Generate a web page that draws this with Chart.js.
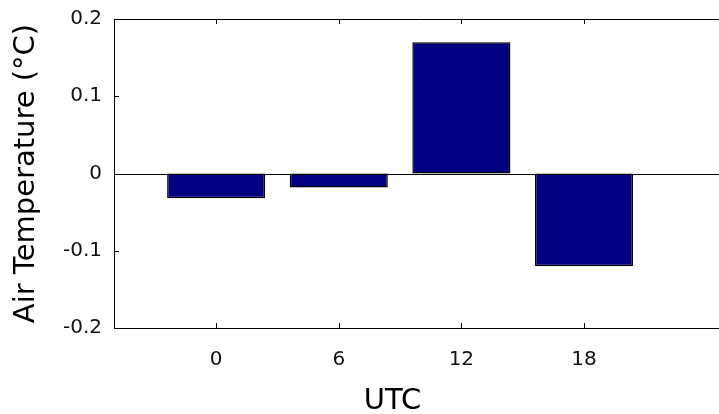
<!DOCTYPE html>
<html><head><meta charset="utf-8">
<script src="https://cdn.jsdelivr.net/npm/chart.js@4.4.1/dist/chart.umd.min.js"></script>
<style>
html,body{margin:0;padding:0;background:#fff;overflow:hidden;width:719px;height:414px}
#wrap{position:absolute;left:0;top:0;width:760px;height:414px}
</style>
</head><body><div id="wrap"><canvas id="c" width="760" height="414"></canvas></div>
<script>
const hours = [0, 6, 12, 18];
const tempAnomaly = [-0.032, -0.018, 0.170, -0.120];
const xTickValues = [0, 6, 12, 18];
const xTickLabels = ['0', '6', '12', '18'];
const yTickValues = [-0.2, -0.1, 0, 0.1, 0.2];
const yTickLabels = ['-0.2', '-0.1', '0', '0.1', '0.2'];
const xLimits = [-5, 25];
const yLimits = [-0.2, 0.2];
const xTitle = 'UTC';
const yTitle = 'Air Temperature (°C)';

const FONT = '"DejaVu Sans", sans-serif';

const frame = {
  id: 'frame',
  afterDatasetsDraw(chart) {
    const {ctx, chartArea: a, scales: {x, y}} = chart;
    ctx.save();
    ctx.strokeStyle = '#000';
    ctx.lineWidth = 1;
    const line = (x1, y1, x2, y2) => { ctx.beginPath(); ctx.moveTo(x1, y1); ctx.lineTo(x2, y2); ctx.stroke(); };
    const y0 = Math.round(y.getPixelForValue(0)) + 0.5;
    line(a.left, y0, a.right, y0);
    const top = Math.round(a.top) + 0.5;
    line(a.left, top, a.right, top);
    xTickValues.forEach(v => {
      const px = Math.round(x.getPixelForValue(v)) + 0.5;
      line(px, a.bottom, px, a.bottom - 5);
      line(px, a.top, px, a.top + 5);
    });
    yTickValues.forEach(v => {
      const py = Math.round(y.getPixelForValue(v)) + 0.5;
      line(a.left, py, a.left + 5, py);
    });
    ctx.fillStyle = '#000';
    ctx.font = '29px ' + FONT;
    ctx.textAlign = 'center';
    ctx.textBaseline = 'alphabetic';
    ctx.fillText(xTitle, 392.5, 409);
    ctx.restore();
  }
};

new Chart(document.getElementById('c'), {
  type: 'bar',
  data: {
    datasets: [{
      data: hours.map((h, i) => ({x: h, y: tempAnomaly[i]})),
      backgroundColor: '#000080',
      borderColor: '#000000',
      borderWidth: 1.5,
      borderSkipped: false,
      categoryPercentage: 1,
      barPercentage: 0.8
    }]
  },
  options: {
    responsive: false,
    animation: false,
    devicePixelRatio: 1,
    layout: {padding: {top: 19, right: 33, left: 0, bottom: 0}},
    plugins: {legend: {display: false}, tooltip: {enabled: false}},
    scales: {
      x: {
        type: 'linear',
        offset: false,
        min: xLimits[0], max: xLimits[1],
        grid: {display: false, offset: false, drawTicks: false},
        border: {display: true, color: '#000', width: 1},
        afterBuildTicks: s => { s.ticks = xTickValues.map(v => ({value: v})); },
        afterFit: s => { s.height = 86; s.paddingLeft = 0; s.paddingRight = 0; },
        ticks: {
          color: '#111', font: {family: FONT, size: 20}, padding: 20,
          maxRotation: 0, autoSkip: false,
          callback: (v, i) => xTickLabels[i]
        }
      },
      y: {
        min: yLimits[0], max: yLimits[1],
        grid: {display: false, drawTicks: false},
        border: {display: true, color: '#000', width: 1},
        afterBuildTicks: s => { s.ticks = yTickValues.map(v => ({value: v})); },
        afterFit: s => { s.width = 114; s.paddingTop = 0; s.paddingBottom = 0; },
        ticks: {
          color: '#111', font: {family: FONT, size: 20}, padding: 12,
          callback: (v, i) => yTickLabels[i]
        },
        title: {
          display: true, text: yTitle, color: '#000',
          font: {family: FONT, size: 29, lineHeight: 1},
          padding: {top: 12, bottom: 0}
        }
      }
    }
  },
  plugins: [frame]
});
</script>
</body></html>
